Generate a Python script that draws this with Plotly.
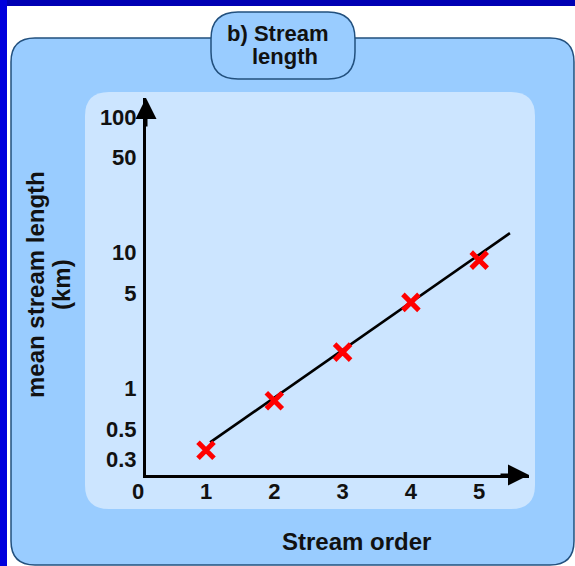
import plotly.graph_objects as go

# ---- data ----
stream_order = [1, 2, 3, 4, 5]
mean_length_km = [0.35, 0.81, 1.85, 4.3, 8.8]
fit_x = [1.06, 5.45]
fit_y = [0.40, 13.9]
y_tick_vals = [0.3, 0.5, 1, 5, 10, 50, 100]
y_tick_text = ["0.3", "0.5", "1", "5", "10", "50", "100"]
x_tick_vals = [1, 2, 3, 4, 5]
x_tick_text = ["1", "2", "3", "4", "5"]

W_FIG, H_FIG = 575, 566
L, R, T, B = 146, 529, 98, 475
PW, PH = R - L, B - T


def px(x):
    return (x - L) / PW


def py(y):
    return (B - y) / PH


def rrect(x0, y0, x1, y1, r):
    pts = [
        ("M", [(x0 + r, y0)]),
        ("L", [(x1 - r, y0)]),
        ("Q", [(x1, y0), (x1, y0 + r)]),
        ("L", [(x1, y1 - r)]),
        ("Q", [(x1, y1), (x1 - r, y1)]),
        ("L", [(x0 + r, y1)]),
        ("Q", [(x0, y1), (x0, y1 - r)]),
        ("L", [(x0, y0 + r)]),
        ("Q", [(x0, y0), (x0 + r, y0)]),
    ]
    s = ""
    for cmd, ps in pts:
        s += cmd + " " + " ".join(f"{px(a):.5f},{py(b):.5f}" for a, b in ps) + " "
    return s + "Z"


FONT = "Liberation Sans, Arial, sans-serif"
TXT = "#111111"

fig = go.Figure()
fig.add_trace(go.Scatter(x=fit_x, y=fit_y, mode="lines",
                         line=dict(color="black", width=2.6), hoverinfo="skip"))
fig.add_trace(go.Scatter(x=stream_order, y=mean_length_km, mode="markers",
                         marker=dict(symbol="x-thin", size=16, color="#ff0000",
                                     line=dict(color="#ff0000", width=5))))

shapes = [
    dict(type="rect", x0=px(0), x1=px(W_FIG), y0=py(0), y1=py(6),
         fillcolor="#0000b4", line=dict(width=0)),
    dict(type="rect", x0=px(0), x1=px(7), y0=py(0), y1=py(H_FIG),
         fillcolor="#0000dd", line=dict(width=0)),
    dict(type="path", path=rrect(11, 38, 574, 565, 24),
         fillcolor="#99ccff", line=dict(color="#22507e", width=1.5)),
    dict(type="path", path=rrect(85, 92, 535, 509, 24),
         fillcolor="#cce5ff", line=dict(width=0)),
    dict(type="path", path=rrect(211, 12, 355, 79, 27),
         fillcolor="#99ccff", line=dict(color="#22507e", width=1.5)),
]
for s in shapes:
    s.update(xref="paper", yref="paper", layer="below")

annotations = [
    dict(x=px(277), y=py(33), text="b) Stream", size=22),
    dict(x=px(285), y=py(57), text="length", size=22),
    dict(x=px(356), y=py(541), text="Stream order", size=24),
    dict(x=px(35), y=py(285), text="mean stream length", size=24, angle=-90),
    dict(x=px(61), y=py(285), text="(km)", size=24, angle=-90),
    dict(x=px(138), y=py(491), text="0", size=22),
]
ann = []
for a in annotations:
    ann.append(dict(x=a["x"], y=a["y"], xref="paper", yref="paper", text=a["text"],
                    showarrow=False, xanchor="center", yanchor="middle",
                    textangle=a.get("angle", 0),
                    font=dict(family=FONT, size=a["size"], color=TXT, weight="bold")))
# arrow heads on axes
ann.append(dict(x=0, y=1, xref="paper", yref="paper", ax=0, ay=30, axref="pixel", ayref="pixel",
                text="", showarrow=True, arrowhead=2, arrowsize=1.4, arrowwidth=3,
                arrowcolor="black", standoff=0))
ann.append(dict(x=1, y=0, xref="paper", yref="paper", ax=-30, ay=0, axref="pixel", ayref="pixel",
                text="", showarrow=True, arrowhead=2, arrowsize=1.4, arrowwidth=3,
                arrowcolor="black", standoff=0))

tickfont = dict(family=FONT, size=22, color=TXT, weight="bold")
fig.update_layout(
    width=W_FIG, height=H_FIG,
    margin=dict(l=L, r=W_FIG - R, t=T, b=H_FIG - B, pad=0),
    paper_bgcolor="white", plot_bgcolor="rgba(0,0,0,0)",
    showlegend=False,
    shapes=shapes, annotations=ann,
    xaxis=dict(range=[0.1215, 5.729], tickvals=x_tick_vals, ticktext=x_tick_text,
               showgrid=False, zeroline=False, showline=True, linewidth=3, linecolor="black",
               ticks="", ticklabelstandoff=-5, tickfont=tickfont, fixedrange=True),
    yaxis=dict(type="log", range=[-0.6377, 2.1384], tickvals=y_tick_vals, ticktext=y_tick_text,
               showgrid=False, zeroline=False, showline=True, linewidth=3, linecolor="black",
               ticks="", ticklabelstandoff=2, tickfont=tickfont, fixedrange=True),
)

fig.write_html("out.html", config={"displayModeBar": False},
               post_script="document.body.style.margin='0';document.body.style.overflow='hidden';")
